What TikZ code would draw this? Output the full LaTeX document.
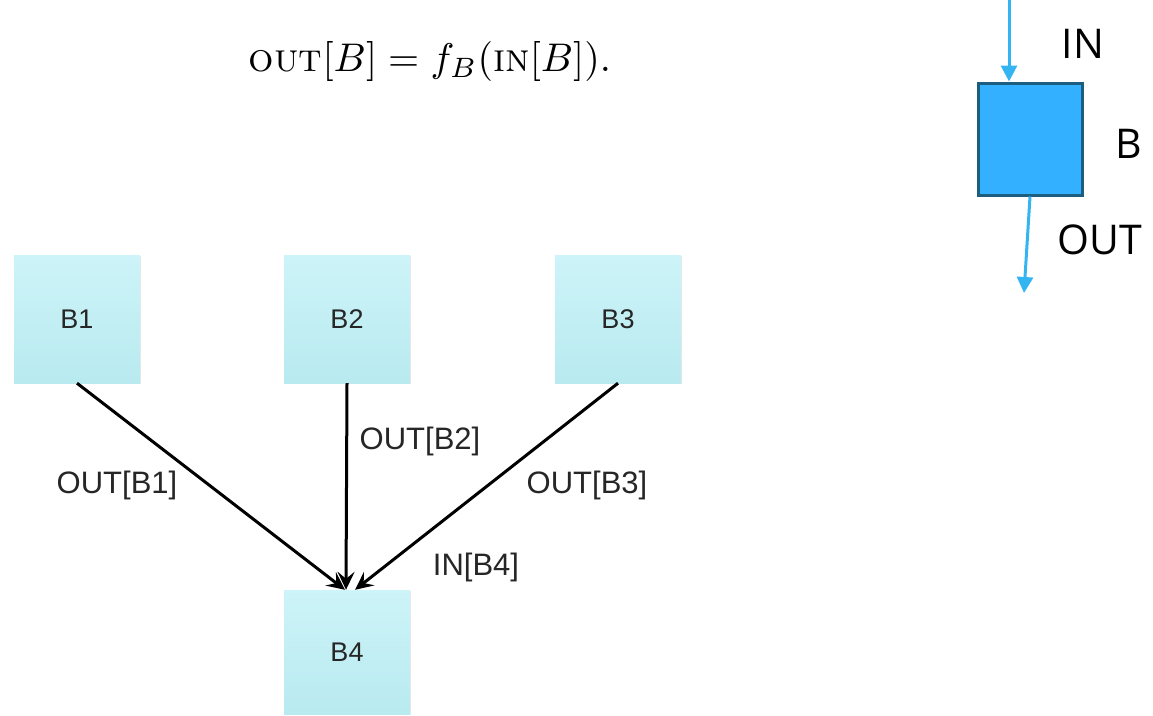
\documentclass[tikz,border=0pt]{standalone}
\usepackage{fontspec}
\newfontfamily\labelfont{Liberation Sans}
\newfontfamily\sidefont{Open Sans}
\usetikzlibrary{arrows.meta,shadows}
\definecolor{boxtop}{HTML}{CDF4F8}
\definecolor{boxbot}{HTML}{B8EAF0}
\definecolor{blockblue}{HTML}{33B0FF}
\definecolor{blockedge}{HTML}{1D5D7E}
\definecolor{flowblue}{HTML}{35B4F2}
\begin{document}
\begin{tikzpicture}[x=1pt,y=-1pt,
  blk/.style={rectangle, minimum width=126pt, minimum height=128pt, inner sep=0pt,
    top color=boxtop, bottom color=boxbot, draw=none,
    drop shadow={shadow xshift=1.2pt, shadow yshift=-1.2pt, opacity=0.18},
    font=\labelfont\fontsize{27}{32}\selectfont, text=black!85},
  edge/.style={line width=3pt, -{Stealth[length=18pt,width=17pt,inset=7pt]}},
  elabel/.style={font=\labelfont\fontsize{31}{36}\selectfont, text=black!85},
  sidelabel/.style={font=\sidefont\fontsize{41}{48}\selectfont},
  flow/.style={flowblue, line width=3pt, -{Triangle[length=16pt,width=16pt]}}]
\useasboundingbox (0,0) rectangle (1153,715);

% formula
\node (eq) at (430,61) {\scalebox{4.0}{$\textsc{out}[B] = f_B(\textsc{in}[B]).$}};

% four basic blocks
\node[blk] (b1) at (77,319) {B1};
\node[blk] (b2) at (347,319) {B2};
\node[blk] (b3) at (618,319) {B3};
\node[blk, minimum height=124pt] (b4) at (347,652) {B4};

% flow edges into B4
\coordinate (t1) at ([xshift=-2pt]b4.north);
\coordinate (t3) at ([xshift=8pt]b4.north);
\draw[edge] (b1.south) -- (t1);
\draw[edge] (b2.south) -- ([xshift=-1pt]b4.north);
\draw[edge] (b3.south) -- (t3);

\node[elabel] (l1) at (117,485) {OUT[B1]};
\node[elabel] (l2) at (420,441) {OUT[B2]};
\node[elabel] (l3) at (587,485) {OUT[B3]};
\node[elabel] (l4) at (476,567) {IN[B4]};

% generic block with IN/OUT
\node[rectangle, minimum width=104pt, minimum height=112pt, inner sep=0pt,
  fill=blockblue, draw=blockedge, line width=3pt] (bb) at (1030,139) {};
\coordinate (inTop) at (1009,0);
\coordinate (outEnd) at (1024,293);
\draw[flow] (inTop) -- (inTop |- bb.north);
\draw[flow] (bb.south) -- (outEnd);
\node[sidelabel] (lin) at (1083,44) {IN};
\node[sidelabel] (lb) at (1129,144) {B};
\node[sidelabel] (lout) at (1100,240) {OUT};
\end{tikzpicture}
\end{document}
